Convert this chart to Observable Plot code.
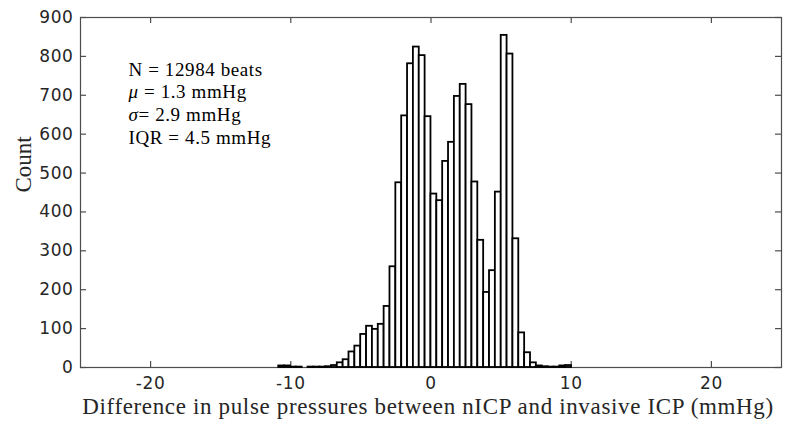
<!DOCTYPE html>
<html>
<head>
<meta charset="utf-8">
<script src="https://cdn.jsdelivr.net/npm/d3@7"></script>
<script src="https://cdn.jsdelivr.net/npm/@observablehq/plot@0.6"></script>
<style>
  html, body { margin: 0; padding: 0; background: #fff; }
</style>
</head>
<body>
<div id="chart"></div>
<script>
// ---- Data ----
const binStart = -10.86;   // left edge of first bin (mmHg)
const binWidth = 0.4176;   // bin width (mmHg), 50 bins
const counts = [
  4, 4, 1, 1, 0, 1, 1, 1, 2,
  5, 12, 20, 40, 55, 85, 106, 98, 111,
  157, 259, 475, 647, 781, 824, 802, 645, 446, 429, 530, 579,
  697, 728, 676, 477, 327, 193, 249, 451, 854, 806, 331, 89,
  38, 12, 4, 2, 1, 1, 4, 5
];
const xDomain = [-25, 25];
const yDomain = [0, 900];
const xTicks = [-20, -10, 0, 10, 20];
const yTicks = [0, 100, 200, 300, 400, 500, 600, 700, 800, 900];
const xLabel = "Difference in pulse pressures between nICP and invasive ICP (mmHg)";
const yLabel = "Count";
const statsLines = ["N = 12984 beats", "μ = 1.3 mmHg", "σ= 2.9 mmHg", "IQR = 4.5 mmHg"];

// ---- Layout ----
const W = 785, H = 428;
const mL = 80, mR = 4, mT = 17, mB = 61;
const fw = W - mL - mR, fh = H - mT - mB;
const tickLen = 6;
const axisColor = "#4d4d4d";
const textColor = "#262626";

const bins = counts.map((c, i) => ({
  x1: binStart + i * binWidth,
  x2: binStart + (i + 1) * binWidth,
  count: c
}));

const svg = Plot.plot({
  width: W,
  height: H,
  marginLeft: mL,
  marginRight: mR,
  marginTop: mT,
  marginBottom: mB,
  style: { background: "#fff" },
  x: { domain: xDomain },
  y: { domain: yDomain },
  marks: [
    Plot.frame({ stroke: axisColor, strokeWidth: 1.2 }),
    // inward ticks on all four sides
    Plot.tickX(xTicks, { x: d => d, insetTop: fh - tickLen, stroke: axisColor, strokeWidth: 1.2 }),
    Plot.tickX(xTicks, { x: d => d, insetBottom: fh - tickLen, stroke: axisColor, strokeWidth: 1.2 }),
    Plot.tickY(yTicks, { y: d => d, insetRight: fw - tickLen, stroke: axisColor, strokeWidth: 1.2 }),
    Plot.tickY(yTicks, { y: d => d, insetLeft: fw - tickLen, stroke: axisColor, strokeWidth: 1.2 }),
    Plot.rectY(bins, { x1: "x1", x2: "x2", y: "count", fill: "white", stroke: "black", strokeWidth: 1.8 }),
    Plot.axisX({ ticks: xTicks, tickSize: 0, tickPadding: 9, label: null, tickFormat: d => String(d),
      fontSize: 17, fontFamily: "DejaVu Sans", fill: textColor }),
    Plot.axisY({ ticks: yTicks, tickSize: 0, tickPadding: 7, label: null, tickFormat: d => String(d),
      fontSize: 17, fontFamily: "DejaVu Sans", fill: textColor }),
    Plot.text([xLabel], { frameAnchor: "bottom", dx: -3, dy: 39, lineAnchor: "middle",
      fontFamily: "Liberation Serif", fontSize: 23, fill: textColor }),
    Plot.text([yLabel], { frameAnchor: "left", dx: -57, rotate: -90, lineAnchor: "middle",
      fontFamily: "Liberation Serif", fontSize: 23, fill: textColor }),
    Plot.text([statsLines.join("\n")], { frameAnchor: "top-left", dx: 48, dy: 42, lineAnchor: "top",
      textAnchor: "start", lineHeight: 1.2, fontFamily: "Liberation Serif", fontSize: 19, fill: "black" })
  ]
});

// post-styling: letter spacing to mimic Computer Modern / MATLAB font widths, italic Greek symbols
svg.querySelectorAll("text").forEach(t => {
  const s = t.textContent;
  if (s === xLabel) t.setAttribute("letter-spacing", "0.65");
  if (s.startsWith("N = ")) t.setAttribute("letter-spacing", "0.6");
  if (/^-?\d+$/.test(s)) t.setAttribute("letter-spacing", "0.6");
});
svg.querySelectorAll("tspan").forEach(ts => {
  const s = ts.textContent;
  if (s.startsWith("μ") || s.startsWith("σ")) {
    const sym = s[0], rest = s.slice(1);
    ts.textContent = "";
    const it = document.createElementNS("http://www.w3.org/2000/svg", "tspan");
    it.setAttribute("font-style", "italic");
    it.textContent = sym;
    ts.appendChild(it);
    ts.appendChild(document.createTextNode(rest));
  }
});

document.getElementById("chart").appendChild(svg);
</script>
</body>
</html>
